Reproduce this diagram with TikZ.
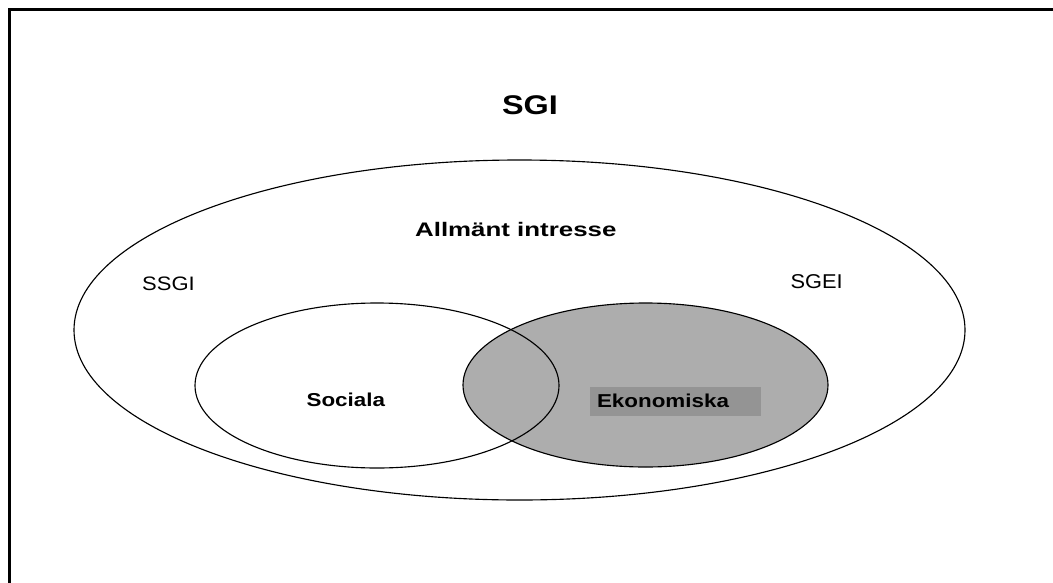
\documentclass[tikz,border=0pt]{standalone}
\usepackage{fontspec}
\setmainfont{Liberation Sans}
\begin{document}
\begin{tikzpicture}[x=0.75pt,y=-0.75pt,
  ell/.style={draw=black,line width=0.85pt},
  lbl/.style={anchor=base,inner sep=0pt,outer sep=0pt},
  frameline/.style={line width=2.25pt,line cap=rect}]
\useasboundingbox (0,0) rectangle (1053,582);
% frame (top and left)
\draw[frameline] (9.5,600) -- (9.5,9) -- (1060,9);
% shaded economic ellipse
\fill[black!32] (645.5,385) ellipse [x radius=182.5, y radius=82];
\fill[black!42] (590,387) rectangle (761,416);
% outlines
\draw[ell] (519.5,330) ellipse [x radius=445.5, y radius=170];
\draw[ell] (377,385.5) ellipse [x radius=182, y radius=82.5];
\draw[ell] (645.5,385) ellipse [x radius=182.5, y radius=82];
% labels
\node[lbl,font=\fontsize{20.25}{24}\selectfont\bfseries] (sgi) at (530,114.3) {\scalebox{1.2}[1]{SGI}};
\node[lbl,font=\fontsize{14.7}{18}\selectfont\bfseries] (allm) at (515.8,236.7) {\scalebox{1.32}[1]{Allmänt intresse}};
\node[lbl,font=\fontsize{14.6}{18}\selectfont] (ssgi) at (168.5,290) {\scalebox{1.13}[1]{SSGI}};
\node[lbl,font=\fontsize{15}{18}\selectfont] (sgei) at (816.7,288.3) {\scalebox{1.09}[1]{SGEI}};
\node[lbl,font=\fontsize{14}{17}\selectfont\bfseries] (soc) at (345.8,406.7) {\scalebox{1.2}[1]{Sociala}};
\node[lbl,font=\fontsize{14}{17}\selectfont\bfseries] (eko) at (663,407) {\scalebox{1.2}[1]{Ekonomiska}};
\end{tikzpicture}
\end{document}
